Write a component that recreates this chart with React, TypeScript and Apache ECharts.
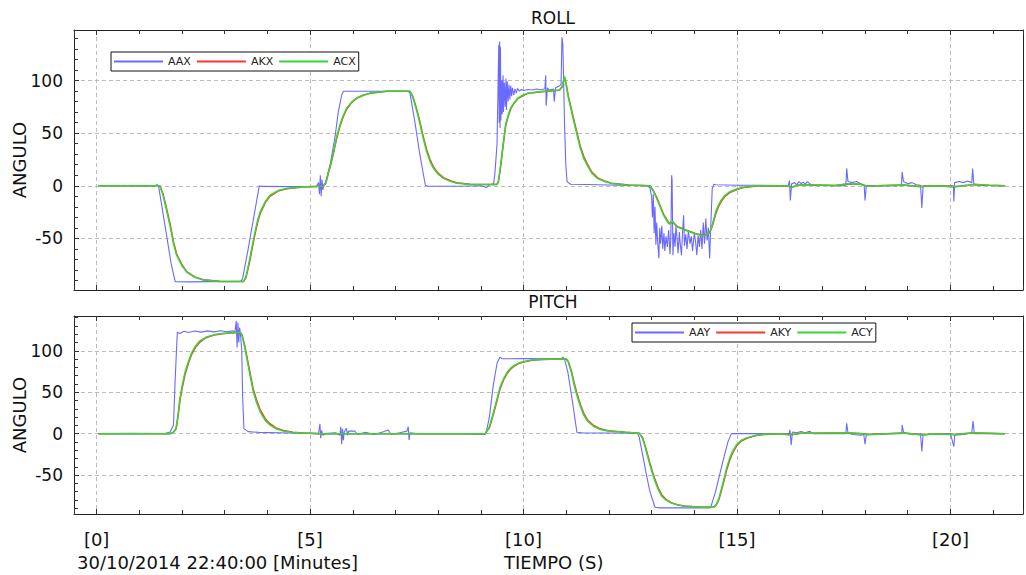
import React, { useEffect, useRef } from "react";
import * as echarts from "echarts";

// ---------- DATA ----------
const rollNames = ["AAX", "AKX", "ACX"];
const pitchNames = ["AAY", "AKY", "ACY"];
const xTickValues = [0, 5, 10, 15, 20];
const rollRange = [-99, 148];
const pitchRange = [-97, 142];
const timeRange = [-0.53, 21.7];

// ROLL raw (AAX) [time, angle]
const rollRaw: number[][] = [
  [0.04, 0], [0.5, 0.3], [1.0, -0.2], [1.38, 0.2], [1.42, 1.2], [1.45, 0],
  [1.55, -25], [1.65, -50], [1.75, -75], [1.84, -91],
  [2.2, -91.3], [2.6, -91], [3.0, -91.2], [3.38, -90.8],
  [3.42, -88], [3.55, -60], [3.68, -30], [3.81, 0], [3.85, -0.6], [4.5, -0.8], [5.15, -0.5],
  [5.2, 3], [5.22, -8], [5.24, 10], [5.26, -10], [5.28, 6], [5.3, -4], [5.33, 2],
  [5.35, 1], [5.47, 20], [5.59, 48], [5.66, 70], [5.74, 86], [5.78, 89.8],
  [6.5, 89.8], [7.3, 89.8],
  [7.34, 88], [7.45, 62], [7.57, 30], [7.7, 0.5], [7.75, -0.3], [8.5, -0.4], [9.0, 0], [9.14, -1.5],
  [9.2, 1], [9.3, 2], [9.33, 12], [9.38, 40],
  [9.42, 134], [9.43, 60], [9.44, 137], [9.45, 55], [9.46, 132], [9.47, 62], [9.49, 100], [9.5, 68],
  [9.52, 105], [9.53, 70], [9.55, 98], [9.57, 75], [9.59, 102], [9.6, 72], [9.62, 99], [9.64, 80],
  [9.66, 96], [9.68, 82], [9.7, 95], [9.72, 85], [9.74, 93], [9.77, 86], [9.8, 92], [9.83, 88],
  [9.86, 92.5], [9.9, 90], [9.95, 91.5], [10.0, 90.5], [10.1, 91.5], [10.2, 91], [10.3, 92], [10.4, 91.2],
  [10.5, 92], [10.52, 105], [10.53, 76], [10.56, 93], [10.6, 91], [10.7, 92], [10.72, 80], [10.75, 93],
  [10.8, 94], [10.85, 95], [10.88, 97], [10.9, 141], [10.92, 135], [10.94, 100], [10.96, 60], [10.99, 20],
  [11.02, 4], [11.1, 1.5], [11.5, 1.2], [12.0, 0.8], [12.5, 0.3], [12.9, 0],
  [12.96, -2], [13.0, -10], [13.02, -30], [13.04, -8], [13.06, -45], [13.08, -20], [13.1, -56], [13.12, -35],
  [13.14, -52], [13.17, -69], [13.19, -40], [13.21, -55], [13.24, -38], [13.26, -60], [13.29, -45], [13.31, -62],
  [13.34, -48], [13.37, -58], [13.4, -42], [13.43, -65], [13.45, -50], [13.47, 10], [13.48, 5], [13.5, -66],
  [13.52, -45], [13.55, -58], [13.57, -38], [13.6, -52], [13.62, -64], [13.65, -44], [13.67, -55], [13.7, -66],
  [13.72, -48], [13.75, -28], [13.77, -57], [13.8, -46], [13.83, -60], [13.86, -43], [13.9, -55], [13.93, -48],
  [13.96, -62], [14.0, -45], [14.03, -53], [14.06, -66], [14.09, -47], [14.12, -58], [14.15, -42], [14.18, -60],
  [14.21, -35], [14.24, -55], [14.27, -31], [14.3, -52], [14.33, -40], [14.36, -69], [14.38, -45], [14.42, -3],
  [14.46, 1.5], [14.5, 1], [15.0, 0.5], [15.5, 0.5], [16.0, 0.2], [16.2, 0.5],
  [16.23, 5], [16.25, -14], [16.28, 2], [16.35, 3], [16.4, 1], [16.45, 4], [16.5, 2], [16.55, 3.5],
  [16.6, 1.5], [16.65, 4], [16.7, 2], [16.78, 0.5], [17.3, 0.2], [17.55, 0], [17.57, 16.5], [17.6, 4],
  [17.7, 3], [17.8, 4], [17.9, 2], [17.98, 0], [18.0, -14], [18.03, 0], [18.5, 0], [18.85, 0],
  [18.87, 13], [18.9, 4], [19.0, 2], [19.1, 3], [19.2, 1], [19.3, 0.5], [19.33, -21], [19.36, 0],
  [19.8, 0], [20.07, 0], [20.08, -15], [20.1, 3], [20.2, 4], [20.3, 3], [20.4, 4.5], [20.5, 3],
  [20.52, 16.5], [20.55, 1], [20.8, 0.3], [21.28, 0],
];

// ROLL Kalman (AKX)
const rollKalman: number[][] = [
  [0.04, 0], [1.48, 0], [1.55, -7], [1.63, -20], [1.72, -36], [1.8, -53], [1.875, -65], [2.0, -75],
  [2.11, -81.5], [2.3, -86.5], [2.5, -89.2], [2.89, -90.8], [3.44, -91], [3.5, -87], [3.59, -71], [3.65, -58],
  [3.71, -46], [3.77, -35], [3.83, -26.5], [3.95, -16], [4.06, -10], [4.25, -5], [4.45, -2.8], [4.84, -1.2],
  [5.31, -0.5], [5.37, 2.5], [5.43, 12], [5.49, 21], [5.55, 31], [5.62, 44.5], [5.7, 56.5], [5.78, 66],
  [5.86, 73], [5.97, 79], [6.09, 83], [6.25, 86], [6.4, 87.8], [6.8, 89.7], [7.34, 89.8], [7.4, 85.5],
  [7.46, 78], [7.52, 69.5], [7.58, 59.5], [7.65, 47], [7.73, 34.5], [7.81, 25], [7.89, 18], [8.0, 12],
  [8.125, 7.8], [8.3, 4.5], [8.44, 2.8], [8.75, 1.4], [9.375, 1.3], [9.41, 3.5], [9.45, 14], [9.5, 30.5],
  [9.54, 43.5], [9.58, 56.5], [9.64, 66], [9.7, 73], [9.78, 78.5], [9.86, 82.5], [9.98, 85.5], [10.1, 87.8],
  [10.43, 89.4], [10.84, 90.8], [10.9, 93.5], [10.96, 103], [11.0, 96.5], [11.04, 87], [11.1, 76.5], [11.16, 66],
  [11.25, 51], [11.33, 37.5], [11.41, 28], [11.49, 21], [11.6, 13], [11.73, 7.8], [11.9, 4.5], [12.06, 2.5],
  [12.47, 0.7], [12.96, 0], [13.04, -4.5], [13.12, -11], [13.2, -19], [13.28, -27], [13.4, -35], [13.45, -35.5],
  [13.49, -34], [13.55, -36.5], [13.6, -38.5], [13.77, -41.5], [14.01, -45], [14.2, -47.3], [14.3, -46.5], [14.36, -44.5],
  [14.42, -38.5], [14.5, -27], [14.57, -19.5], [14.63, -15], [14.72, -10], [14.83, -6.5], [15.0, -3.5], [15.15, -1.6],
  [15.48, -0.2], [16.2, 0], [16.27, -1.8], [16.4, 0.4], [16.6, 0.9], [16.8, 0.8], [17.3, 0.3], [17.6, 1.8],
  [17.9, 1.4], [18.05, -0.4], [18.3, 0], [18.9, 0.7], [19.3, -0.7], [19.6, 0], [20.1, -0.9], [20.4, 0.4],
  [20.55, 1.3], [20.9, 0.5], [21.28, 0],
];

// ROLL complementary (ACX)
const rollComp: number[][] = [
  [0.04, 0], [1.48, 0], [1.55, -8], [1.63, -22], [1.72, -38], [1.8, -55], [1.875, -66], [2.0, -76],
  [2.11, -82], [2.3, -87], [2.5, -89.5], [2.89, -91], [3.44, -91], [3.5, -86], [3.59, -69], [3.65, -56],
  [3.71, -44], [3.77, -33], [3.83, -25], [3.95, -15], [4.06, -9], [4.25, -4.5], [4.45, -2.5], [4.84, -1],
  [5.31, -0.5], [5.37, 3], [5.43, 13], [5.49, 22], [5.55, 32.5], [5.62, 46], [5.7, 58], [5.78, 67],
  [5.86, 74], [5.97, 79.5], [6.09, 83.4], [6.25, 86.3], [6.4, 88], [6.8, 89.8], [7.34, 89.8], [7.4, 85],
  [7.46, 77], [7.52, 68], [7.58, 58], [7.65, 45], [7.73, 32.5], [7.81, 23], [7.89, 16.6], [8.0, 11],
  [8.125, 7], [8.3, 4], [8.44, 2.5], [8.75, 1.3], [9.375, 1.3], [9.41, 4], [9.45, 15], [9.5, 32],
  [9.54, 45], [9.58, 58], [9.64, 67], [9.7, 74], [9.78, 79], [9.86, 83], [9.98, 86], [10.1, 88],
  [10.43, 89.5], [10.84, 91], [10.9, 94], [10.96, 104], [11.0, 96], [11.04, 86], [11.1, 75], [11.16, 64],
  [11.25, 49], [11.33, 35.6], [11.41, 26], [11.49, 19.7], [11.6, 12], [11.73, 7], [11.9, 4], [12.06, 2.2],
  [12.47, 0.6], [12.96, 0], [13.04, -5], [13.12, -12], [13.2, -20], [13.28, -28], [13.4, -36], [13.45, -36],
  [13.49, -34], [13.55, -37], [13.6, -39], [13.77, -42], [14.01, -45.4], [14.2, -47.6], [14.3, -46.5], [14.36, -44],
  [14.42, -37.5], [14.5, -25], [14.57, -18], [14.63, -13.7], [14.72, -9], [14.83, -5.7], [15.0, -3], [15.15, -1.3],
  [15.48, 0], [16.2, 0], [16.27, -2], [16.4, 0.5], [16.6, 1], [16.8, 0.8], [17.3, 0.3], [17.6, 2],
  [17.9, 1.5], [18.05, -0.5], [18.3, 0], [18.9, 0.8], [19.3, -0.8], [19.6, 0], [20.1, -1], [20.4, 0.5],
  [20.55, 1.5], [20.9, 0.5], [21.28, 0],
];

// PITCH raw (AAY)
const pitchRaw: number[][] = [
  [0.04, 0], [0.8, 0.3], [1.6, 0.2], [1.72, 2], [1.8, 10], [1.84, 65], [1.89, 122.4], [1.95, 121],
  [2.05, 123.5], [2.15, 122], [2.3, 123.8], [2.45, 122.5], [2.6, 124], [2.75, 122.8], [2.9, 124.2], [3.05, 123],
  [3.2, 124], [3.24, 123], [3.27, 136], [3.29, 104], [3.31, 134], [3.33, 110], [3.35, 128], [3.37, 120],
  [3.4, 100], [3.42, 45], [3.45, 6], [3.55, 2.4], [3.8, 1.5], [4.5, 0.8], [5.2, 0.5],
  [5.23, 12], [5.25, -5.6], [5.27, 4], [5.3, -2], [5.4, 0.5], [5.6, 1], [5.7, -2], [5.72, 8.4],
  [5.74, -12.8], [5.76, 6], [5.78, -8], [5.8, 2], [5.85, 6.4], [5.88, -2], [5.9, 3], [6.05, 3.2],
  [6.1, -1], [6.3, 1.5], [6.5, -1], [6.7, 2], [6.83, 4.4], [6.9, -1], [7.1, 1], [7.27, 3],
  [7.3, 8.4], [7.32, -7.6], [7.34, 1], [7.5, 0], [8.5, 0], [9.1, -1], [9.13, 2.4], [9.2, 20],
  [9.29, 58], [9.38, 85], [9.45, 92.4], [9.5, 90.4], [10.0, 90.6], [10.5, 90.2], [10.9, 90.4], [10.92, 92.4],
  [10.96, 90], [11.04, 74], [11.16, 34], [11.25, 1.6], [11.4, 0.8], [12.0, 0.8], [12.67, 0.5], [12.71, -4.4],
  [12.8, -28], [12.88, -50], [12.96, -69.6], [13.08, -88.8], [13.2, -89.6], [14.0, -89.6], [14.38, -89.6], [14.5, -69.6],
  [14.67, -33.6], [14.79, -9.6], [14.87, 0], [15.5, 0], [16.22, 0], [16.24, 4.4], [16.27, -13.6], [16.3, 2],
  [16.4, 1], [16.5, 2.5], [16.6, 1], [16.7, 3], [16.78, 0], [17.55, 0], [17.57, 12.4], [17.6, 1],
  [17.7, -1], [17.9, -2], [17.97, -1], [18.0, -12.8], [18.03, -1], [18.5, 0], [18.86, 0], [18.87, 10.4],
  [18.9, 2], [19.0, 0], [19.2, -1], [19.3, 0], [19.33, -21.6], [19.36, -1], [20.0, 0], [20.08, -15.6],
  [20.1, -2], [20.3, -1], [20.5, 1], [20.53, 15.2], [20.56, 0], [21.28, 0],
];

// PITCH Kalman (AKY)
const pitchKalman: number[][] = [
  [0.04, 0], [1.72, 0], [1.8, 1.5], [1.86, 5.5], [1.9, 18], [1.95, 39], [2.0, 54], [2.07, 71],
  [2.15, 85], [2.23, 96], [2.32, 104.5], [2.42, 110.5], [2.55, 115.5], [2.66, 117.5], [2.8, 119.5], [2.97, 120.8],
  [3.36, 122.3], [3.41, 119], [3.47, 106], [3.55, 85], [3.61, 69], [3.67, 53.5], [3.75, 40], [3.83, 29],
  [3.95, 18], [4.06, 12], [4.2, 7], [4.375, 3.8], [4.6, 1.8], [4.84, 0.9], [5.2, 0], [9.1, 0],
  [9.2, 7], [9.3, 24.5], [9.38, 40], [9.45, 54], [9.53, 64.5], [9.62, 73], [9.7, 78], [9.78, 81.5],
  [9.9, 85], [10.02, 86.8], [10.2, 88.5], [10.43, 89.5], [11.0, 90.3], [11.05, 86.8], [11.12, 76], [11.18, 62.5],
  [11.25, 49], [11.33, 35.5], [11.41, 24.5], [11.5, 16.5], [11.65, 9.5], [11.8, 5.8], [11.98, 3.6], [12.39, 1.8],
  [12.71, 0.6], [12.79, -5], [12.87, -18.5], [12.96, -35.5], [13.02, -46], [13.08, -55.5], [13.16, -66], [13.24, -74],
  [13.33, -79], [13.45, -83], [13.6, -85.8], [13.77, -87.4], [14.18, -88.7], [14.46, -88.8], [14.52, -85.5], [14.58, -79],
  [14.64, -68], [14.7, -56], [14.76, -43.5], [14.83, -32], [14.9, -23], [14.99, -15], [15.1, -9], [15.24, -5.4],
  [15.45, -2.3], [15.64, -1], [16.0, 0], [16.27, -1.3], [16.5, 0.4], [17.6, 0.9], [17.95, 0], [18.05, -1],
  [18.9, 0.7], [19.35, -1.3], [19.6, -0.5], [20.1, -0.9], [20.53, 0.9], [21.28, 0],
];

// PITCH complementary (ACY)
const pitchComp: number[][] = [
  [0.04, 0], [1.72, 0], [1.8, 2], [1.86, 6.4], [1.9, 20], [1.95, 42], [2.0, 57], [2.07, 74],
  [2.15, 87], [2.23, 98], [2.32, 106], [2.42, 112], [2.55, 116], [2.66, 118], [2.8, 120], [2.97, 121],
  [3.36, 122.4], [3.41, 118], [3.47, 104], [3.55, 82.4], [3.61, 66], [3.67, 50.4], [3.75, 37], [3.83, 26.4],
  [3.95, 16], [4.06, 10.4], [4.2, 6], [4.375, 3.2], [4.6, 1.5], [4.84, 0.8], [5.2, 0], [9.1, 0],
  [9.2, 8], [9.3, 26.4], [9.38, 42], [9.45, 56], [9.53, 66], [9.62, 74.4], [9.7, 79], [9.78, 82.4],
  [9.9, 85.5], [10.02, 87.2], [10.2, 88.8], [10.43, 89.6], [11.0, 90.4], [11.05, 86], [11.12, 74.4], [11.18, 60],
  [11.25, 46.4], [11.33, 33], [11.41, 22.4], [11.5, 15], [11.65, 8.4], [11.8, 5], [11.98, 3.2], [12.39, 1.6],
  [12.71, 0.6], [12.79, -5.6], [12.87, -20], [12.96, -37.6], [13.02, -48], [13.08, -57.6], [13.16, -68], [13.24, -75.6],
  [13.33, -80], [13.45, -83.6], [13.6, -86], [13.77, -87.6], [14.18, -88.8], [14.46, -88.8], [14.52, -85], [14.58, -77.6],
  [14.64, -66], [14.7, -53.6], [14.76, -41], [14.83, -29.6], [14.9, -21], [14.99, -13.6], [15.1, -8], [15.24, -4.8],
  [15.45, -2], [15.64, -0.8], [16.0, 0], [16.27, -1.5], [16.5, 0.5], [17.6, 1], [17.95, 0], [18.05, -1.2],
  [18.9, 0.8], [19.35, -1.5], [19.6, -0.5], [20.1, -1], [20.53, 1], [21.28, 0],
];

// ---------- STYLE ----------
const FONT = '"DejaVu Sans", sans-serif';
const COLORS = ["#6a6aff", "#ff3535", "#34d834"];
const WIDTHS = [1.1, 1.5, 1.5];

const gridLine = { show: true, lineStyle: { color: "#bcbcbc", type: [4, 3] as any, width: 1 } };

const xLabelFormatter = (v: number) => {
  const r = Math.round(v);
  if (Math.abs(v - r) < 1e-6 && xTickValues.includes(r)) return `[${r}]`;
  return "";
};

function xAxisCfg(gridIndex: number, position: string, showLabel: boolean, showSplit: boolean) {
  return {
    type: "value",
    gridIndex,
    position,
    min: timeRange[0],
    max: timeRange[1],
    minInterval: 5,
    maxInterval: 5,
    splitNumber: 4,
    axisLine: { show: true, onZero: false, lineStyle: { color: "#222", width: 1 } },
    axisTick: { show: true, inside: true, length: 5, lineStyle: { color: "#333" } },
    minorTick: { show: true, splitNumber: 5, length: 4, lineStyle: { color: "#333" } },
    axisLabel: {
      show: showLabel,
      formatter: xLabelFormatter,
      fontSize: 18,
      fontFamily: FONT,
      color: "#111",
      margin: 16,
    },
    splitLine: showSplit ? gridLine : { show: false },
    minorSplitLine: { show: false },
  };
}

function yAxisCfg(gridIndex: number, range: number[]) {
  return {
    type: "value",
    gridIndex,
    min: range[0],
    max: range[1],
    minInterval: 50,
    maxInterval: 50,
    splitNumber: 5,
    name: "ANGULO",
    nameLocation: "middle",
    nameGap: 46,
    nameMoveOverlap: false,
    nameTextStyle: { fontSize: 18, fontFamily: FONT, color: "#111" },
    axisLine: { show: true, onZero: false, lineStyle: { color: "#222", width: 1 } },
    axisTick: { show: true, inside: true, length: 5, lineStyle: { color: "#333" } },
    minorTick: { show: true, splitNumber: 5, length: 4, lineStyle: { color: "#333" } },
    axisLabel: {
      formatter: (v: number) => (Math.abs(v % 50) < 1e-6 ? String(v) : ""),
      fontSize: 17,
      fontFamily: FONT,
      color: "#111",
      margin: 11,
    },
    splitLine: gridLine,
    minorSplitLine: { show: false },
  };
}

function yRightCfg(gridIndex: number, range: number[]) {
  return {
    type: "value",
    gridIndex,
    position: "right",
    min: range[0],
    max: range[1],
    axisLine: { show: true, onZero: false, lineStyle: { color: "#222", width: 1 } },
    axisTick: { show: false },
    axisLabel: { show: false },
    splitLine: { show: false },
  };
}

function legendCfg(names: string[], left: number, top: number) {
  return {
    data: names,
    left,
    top,
    orient: "horizontal",
    icon: "rect",
    itemWidth: 49,
    itemHeight: 2,
    itemGap: 6,
    padding: [4, 3, 4, 3],
    backgroundColor: "#fff",
    borderColor: "#111",
    borderWidth: 1,
    borderRadius: 0,
    selectedMode: false,
    textStyle: { fontSize: 11, fontFamily: FONT, color: "#222" },
  };
}

function seriesCfg(name: string, data: number[][], idx: number, axis: number) {
  return {
    type: "line",
    name,
    data,
    xAxisIndex: axis * 2,
    yAxisIndex: axis * 2,
    symbol: "none",
    showSymbol: false,
    color: COLORS[idx],
    lineStyle: { color: COLORS[idx], width: WIDTHS[idx] },
    z: 2 + idx,
  };
}

export default function App() {
  const ref = useRef<HTMLDivElement>(null);
  useEffect(() => {
    if (!ref.current) return;
    const chart = echarts.init(ref.current, undefined, { renderer: "svg" });
    const option: any = {
      animation: false,
      backgroundColor: "#fff",
      grid: [
        { left: 74, right: 3, top: 30, height: 260, containLabel: false, outerBoundsMode: "none" },
        { left: 74, right: 3, top: 316, height: 198, containLabel: false, outerBoundsMode: "none" },
      ],
      xAxis: [
        xAxisCfg(0, "bottom", false, true),
        xAxisCfg(0, "top", false, false),
        xAxisCfg(1, "bottom", true, true),
        xAxisCfg(1, "top", false, false),
      ],
      yAxis: [
        yAxisCfg(0, rollRange),
        yRightCfg(0, rollRange),
        yAxisCfg(1, pitchRange),
        yRightCfg(1, pitchRange),
      ],
      legend: [legendCfg(rollNames, 111, 52), legendCfg(pitchNames, 632, 323)],
      series: [
        seriesCfg(rollNames[0], rollRaw, 0, 0),
        seriesCfg(rollNames[1], rollKalman, 1, 0),
        seriesCfg(rollNames[2], rollComp, 2, 0),
        seriesCfg(pitchNames[0], pitchRaw, 0, 1),
        seriesCfg(pitchNames[1], pitchKalman, 1, 1),
        seriesCfg(pitchNames[2], pitchComp, 2, 1),
      ],
      graphic: [
        {
          type: "text",
          x: 553,
          y: 18,
          style: { text: "ROLL", fontSize: 17, fontFamily: FONT, fill: "#111", align: "center", verticalAlign: "middle" },
        },
        {
          type: "text",
          x: 553,
          y: 302,
          style: { text: "PITCH", fontSize: 17, fontFamily: FONT, fill: "#111", align: "center", verticalAlign: "middle" },
        },
        {
          type: "text",
          x: 77,
          y: 562,
          style: {
            text: "30/10/2014 22:40:00 [Minutes]",
            fontSize: 18,
            fontFamily: FONT,
            fill: "#111",
            align: "left",
            verticalAlign: "middle",
          },
        },
        {
          type: "text",
          x: 504,
          y: 562,
          style: { text: "TIEMPO (S)", fontSize: 18, fontFamily: FONT, fill: "#111", align: "left", verticalAlign: "middle" },
        },
      ],
    };
    chart.setOption(option);
    return () => chart.dispose();
  }, []);
  return (
    <div
      ref={ref}
      style={{ position: "absolute", left: 0, top: 0, width: 1026, height: 575, background: "#fff" }}
    />
  );
}
